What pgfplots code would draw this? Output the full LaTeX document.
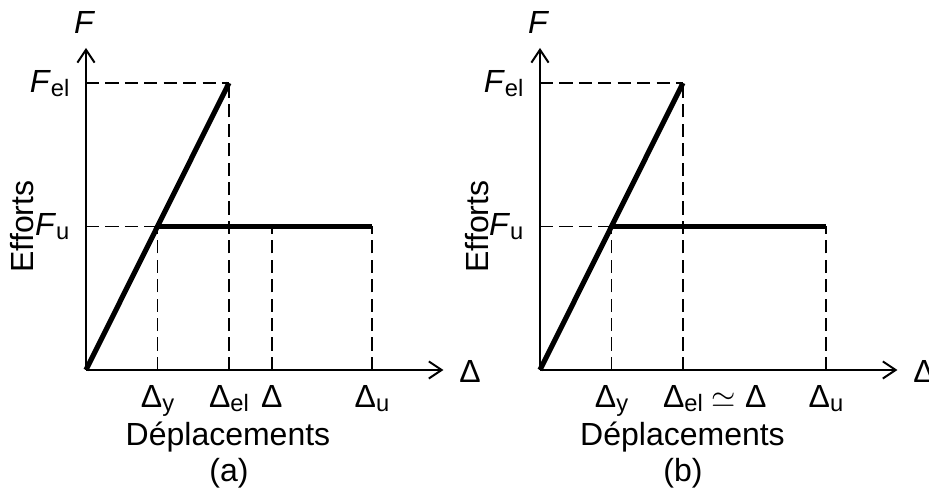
\documentclass[border=0pt]{standalone}
\usepackage{fontspec}
\setmainfont{Liberation Sans}
\usepackage{pgfplots}
\pgfplotsset{compat=1.18}
\usetikzlibrary{arrows.meta}

% subscript in text font
\newcommand\sub[1]{\raisebox{-1.4pt}{\fontsize{8.3}{9}\selectfont #1}}
\newcommand\F{\textit{F}}

\pgfplotsset{
  diag/.style={
    x=25.025pt, y=50.225pt,
    xmin=0, xmax=5, ymin=0, ymax=2.244,
    axis lines=left,
    axis line style={line width=0.7pt,-{Straight Barb[length=4.5pt,width=6pt]}},
    clip=false,
    major tick length=0pt,
    ytick={1,2},
    yticklabels={\F\sub{u},\F\sub{el}},
    yticklabel style={inner sep=0pt, anchor=base east, xshift=-5.6pt, yshift=-3.3pt},
    xticklabel style={inner sep=0pt, anchor=base, yshift=-13.3pt},
    dashline/.style={black, line width=0.65pt, dash pattern=on 4.6pt off 2.2pt},
    thickline/.style={black, line width=1.8pt, line join=miter},
  }
}

\begin{document}
\begin{tikzpicture}[font=\fontsize{11.2}{13}\selectfont]

% (a)
\begin{axis}[diag, at={(0pt,0pt)}, anchor=origin,
  xtick={1,2,2.6,4},
  xticklabels={Δ\sub{y},Δ\sub{el},Δ,Δ\sub{u}}]
\addplot[dashline] coordinates {(0,2) (2,2)};
\addplot[dashline] coordinates {(2,0) (2,2)};
\addplot[dashline] coordinates {(0,1) (1,1)};
\addplot[dashline] coordinates {(1,0) (1,1)};
\addplot[dashline] coordinates {(2.6,0) (2.6,1)};
\addplot[dashline] coordinates {(4,0) (4,1)};
\addplot[thickline] coordinates {(0,0) (2,2)};
\addplot[thickline] coordinates {(1,1) (4,1)};
\node[anchor=base] at (axis cs:-0.02,2.348) {\F};
\node[anchor=base] at (axis cs:5.37,-0.084) {Δ};
\node[rotate=90, anchor=center] at (axis cs:-0.89,1.0) {Efforts};
\node[anchor=base] at (axis cs:1.986,-0.523) {Déplacements};
\node[anchor=base] at (axis cs:2.0,-0.774) {(a)};
\end{axis}

% (b)
\begin{axis}[diag, at={(158.9pt,0pt)}, anchor=origin,
  xtick={1,2,4},
  xticklabels={Δ\sub{y},Δ\sub{el}\rlap{ $\simeq$ Δ},Δ\sub{u}}]
\addplot[dashline] coordinates {(0,2) (2,2)};
\addplot[dashline] coordinates {(2,0) (2,2)};
\addplot[dashline] coordinates {(0,1) (1,1)};
\addplot[dashline] coordinates {(1,0) (1,1)};
\addplot[dashline] coordinates {(4,0) (4,1)};
\addplot[thickline] coordinates {(0,0) (2,2)};
\addplot[thickline] coordinates {(1,1) (4,1)};
\node[anchor=base] at (axis cs:-0.02,2.348) {\F};
\node[anchor=base] at (axis cs:5.37,-0.084) {Δ};
\node[rotate=90, anchor=center] at (axis cs:-0.884,1.0) {Efforts};
\node[anchor=base] at (axis cs:1.993,-0.523) {Déplacements};
\node[anchor=base] at (axis cs:2.0,-0.774) {(b)};
\end{axis}

\pgfresetboundingbox
\path[use as bounding box] (-30.1pt,-41.65pt) rectangle (295.05pt,129.5pt);
\end{tikzpicture}
\end{document}
